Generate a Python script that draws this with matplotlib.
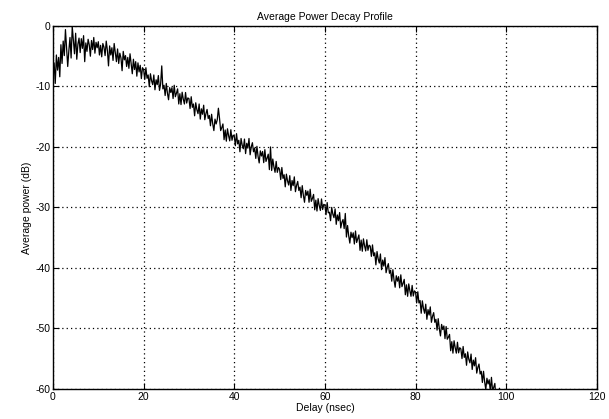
import numpy as np
import matplotlib
matplotlib.use("Agg")
import matplotlib.pyplot as plt

plt.rcParams['font.family'] = ['Liberation Sans', 'DejaVu Sans']
plt.rcParams['axes.unicode_minus'] = False

# Delay samples (ns), 0.25 ns spacing
delay_ns = [i * 0.25 for i in range(400)]

# Average power (dB) (8 samples = 2 ns per row)
power_db = [
    -8.7, -6.1, -9.5, -4.8, -7.3, -5.2, -8.4, -3.1,
    -6.2, -2.5, -4.9, -0.6, -3.8, -6.7, -4.1, -1.9,
    -5.3, -0.1, -2.4, -4.6, -1.2, -5.5, -3.0, -2.0,
    -4.4, -2.1, -3.7, -1.6, -5.9, -2.8, -4.2, -2.2,
    -3.1, -5.0, -2.4, -3.9, -1.9, -4.5, -2.7, -3.6,
    -2.6, -4.8, -3.2, -5.1, -2.9, -3.5, -4.9, -2.5,
    -4.0, -6.6, -3.3, -4.8, -3.6, -5.7, -2.9, -4.4,
    -5.9, -3.8, -6.2, -4.5, -5.3, -7.4, -4.2, -5.6,
    -4.9, -6.7, -5.2, -7.0, -4.6, -6.3, -7.9, -5.5,
    -7.2, -5.9, -8.3, -6.1, -7.6, -6.5, -8.7, -6.9,
    -7.2, -8.85, -6.9, -8.65, -8.1, -10.05, -7.9, -9.05,
    -9.7, -8.1, -10.55, -8.9, -9.7, -8.2, -10.65, -9.6,
    -6.6, -10.4, -9.8, -11.5, -9.5, -11.1, -12.2, -10.2,
    -11.0, -10.2, -12.0, -9.8, -11.7, -11.1, -10.4, -12.9,
    -11.2, -13.0, -10.95, -12.1, -12.9, -11.0, -12.75, -11.9,
    -12.0, -13.65, -11.7, -13.45, -12.9, -14.85, -12.7, -13.85,
    -14.5, -12.9, -15.4, -13.7, -14.6, -13.1, -15.5, -14.5,
    -13.8, -15.3, -14.8, -16.5, -14.6, -16.2, -17.3, -15.4,
    -16.2, -15.5, -13.6, -15.3, -17.3, -16.8, -16.2, -18.8,
    -17.2, -19.05, -17.0, -18.15, -19.0, -17.15, -18.9, -18.05,
    -18.2, -19.8, -17.8, -19.5, -18.9, -20.8, -18.6, -19.7,
    -20.3, -18.7, -21.1, -19.4, -20.2, -18.6, -21.3, -20.0,
    -19.3, -20.8, -20.2, -21.9, -19.9, -21.55, -22.65, -20.65,
    -21.5, -20.75, -22.6, -20.45, -22.4, -21.85, -21.2, -23.75,
    -20.0, -23.9, -22.0, -23.3, -24.2, -22.4, -24.2, -23.4,
    -23.7, -25.4, -23.4, -25.2, -24.6, -26.6, -24.5, -25.6,
    -26.3, -24.75, -27.2, -25.55, -26.4, -24.95, -27.4, -26.35,
    -25.7, -27.2, -26.65, -28.4, -26.4, -28.0, -29.15, -27.2,
    -28.0, -27.3, -29.15, -27.0, -29.0, -28.5, -27.85, -30.4,
    -28.8, -30.6, -28.55, -29.7, -30.5, -28.6, -30.35, -29.5,
    -29.6, -31.2, -29.2, -30.9, -30.8, -32.2, -30.0, -31.1,
    -31.7, -30.25, -32.8, -31.25, -32.2, -30.85, -33.4, -32.45,
    -32.0, -33.5, -31.0, -34.9, -33.0, -34.7, -35.9, -34.1,
    -35.0, -34.2, -36.05, -33.9, -35.8, -35.2, -34.55, -37.1,
    -35.4, -37.25, -35.2, -36.35, -37.2, -35.35, -37.1, -36.25,
    -36.4, -38.1, -36.2, -38.0, -37.5, -39.5, -37.3, -38.5,
    -39.2, -37.7, -40.3, -38.7, -39.7, -38.3, -40.8, -39.9,
    -39.3, -40.9, -40.4, -42.2, -40.3, -42.0, -43.2, -41.3,
    -42.2, -41.45, -43.3, -41.15, -43.1, -42.55, -41.9, -44.45,
    -42.8, -44.7, -42.65, -43.8, -44.7, -42.9, -44.65, -43.8,
    -44.0, -45.8, -43.95, -45.8, -45.4, -47.5, -45.45, -46.7,
    -47.5, -46.0, -48.5, -46.9, -47.8, -46.45, -49.0, -48.0,
    -47.4, -49.0, -48.5, -50.3, -48.4, -50.05, -51.25, -49.35,
    -50.2, -49.6, -51.7, -49.7, -51.8, -51.45, -51.0, -53.7,
    -52.2, -54.1, -52.05, -53.2, -54.1, -52.3, -54.05, -53.2,
    -53.4, -55.0, -53.0, -54.8, -54.2, -56.1, -53.9, -55.1,
    -55.7, -54.25, -56.8, -55.25, -56.2, -54.85, -57.4, -56.45,
    -55.9, -57.55, -57.1, -58.95, -57.1, -58.85, -60.1, -58.25,
    -59.2, -58.5, -60.4, -58.1, -60.3, -59.75, -59.1, -61.7,
    -60.1, -62.0, -59.9, -61.2, -62.1, -60.3, -62.1, -61.9,
]

x_ticks = [0, 20, 40, 60, 80, 100, 120]
y_ticks = [0, -10, -20, -30, -40, -50, -60]

fig = plt.figure(figsize=(6.09, 4.19), dpi=100)
ax = fig.add_axes([0.087, 0.072, 0.893, 0.866])

ax.plot(delay_ns, power_db, color='black', linewidth=0.9)

ax.set_xlim(0, 120)
ax.set_ylim(-60, 0)
ax.set_xticks(x_ticks)
ax.set_yticks(y_ticks)
ax.set_xticklabels([str(t) for t in x_ticks])
ax.set_yticklabels([str(t) for t in y_ticks])

ax.grid(True, color='black', linestyle=(0, (1, 2.5)), linewidth=0.9)
ax.tick_params(direction='in', length=4, width=0.8, top=True, right=True,
               labelsize=7.5, pad=2, colors='black')
for s in ax.spines.values():
    s.set_linewidth(1.0)
    s.set_color('black')

ax.set_title('Average Power Decay Profile', fontsize=7.5, pad=4)
ax.set_xlabel('Delay (nsec)', fontsize=7.5, labelpad=1)
ax.set_ylabel('Average power (dB)', fontsize=7.5, labelpad=2)

fig.savefig('out.png', dpi=100)
